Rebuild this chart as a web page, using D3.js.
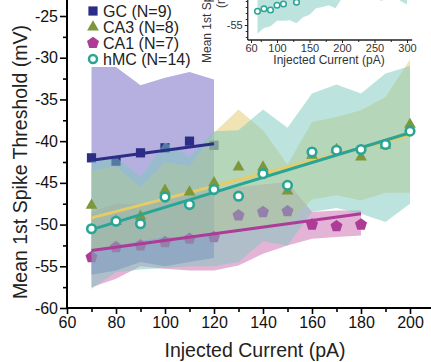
<!DOCTYPE html>
<html>
<head>
<meta charset="utf-8">
<script src="https://cdn.jsdelivr.net/npm/d3@7"></script>
<style>
  body { margin: 0; background: #fff; }
  svg { display: block; font-family: "Liberation Sans", Arial, sans-serif; }
</style>
</head>
<body>
<svg id="chart" width="431" height="362"></svg>
<script>
// ---- data ----
var gcCurrent = [70, 80, 90, 100, 110, 120];
var gcMean  = [-42.0, -42.4, -41.4, -40.8, -40.0, -40.5];
var gcUpper = [-31.1, -31.1, -33.3, -32.4, -31.7, -32.6];
var gcLower = [-56.0, -55.5, -54.5, -55.0, -54.5, -54.0];
var gcFit   = [-42.3, -40.3];

var ca3Current = [70, 80, 90, 100, 110, 120, 130, 140, 150, 160, 170, 180, 190, 200];
var ca3Mean  = [-47.7, -49.6, -49.0, -45.9, -46.1, -45.0, -43.1, -43.1, -46.0, -41.7, -41.0, -41.9, -40.5, -38.0];
var ca3Upper = [-43.5, -43.0, -45.5, -42.5, -43.0, -39.0, -36.2, -38.7, -42.8, -37.7, -37.1, -36.3, -34.7, -30.2];
var ca3Lower = [-53.0, -52.5, -52.0, -51.5, -51.5, -51.0, -50.5, -50.5, -50.0, -47.0, -46.5, -47.1, -46.2, -46.2];
var ca3Fit   = [-49.2, -39.3];

var ca1Current = [70, 80, 90, 100, 110, 120, 130, 140, 150, 160, 170, 180];
var ca1Mean  = [-53.9, -52.7, -52.5, -52.1, -51.7, -51.5, -48.9, -48.5, -48.4, -50.0, -50.2, -50.0];
var ca1Upper = [-48.5, -47.5, -47.5, -47.0, -46.5, -46.1, -45.5, -45.2, -44.9, -48.5, -48.3, -48.3];
var ca1Lower = [-57.5, -56.5, -55.0, -55.3, -55.5, -55.5, -54.9, -53.5, -52.5, -51.7, -51.5, -51.3];
var ca1Fit   = [-53.1, -48.7];

var hmcCurrent = [70, 80, 90, 100, 110, 120, 130, 140, 150, 160, 170, 180, 190, 200];
var hmcMean  = [-50.5, -49.6, -49.9, -46.7, -47.6, -45.8, -46.6, -43.9, -45.3, -41.3, -41.1, -41.0, -40.4, -38.8];
var hmcUpper = [-42.3, -41.9, -44.3, -40.1, -41.9, -38.8, -38.7, -36.2, -38.4, -34.3, -33.2, -34.3, -31.9, -31.0];
var hmcLower = [-57.7, -55.7, -55.4, -55.2, -55.0, -55.0, -54.5, -52.0, -52.5, -48.5, -48.0, -48.7, -49.7, -47.5];
var hmcFit   = [-50.6, -39.0];

var legendLabels = ["GC (N=9)", "CA3 (N=8)", "CA1 (N=7)", "hMC (N=14)"];
var xMajorTicks = [60, 80, 100, 120, 140, 160, 180, 200];
var xMinorTicks = [70, 90, 110, 130, 150, 170, 190];
var yMajorTicks = [-60, -55, -50, -45, -40, -35, -30, -25];
var yMinorTicks = [-57.5, -52.5, -47.5, -42.5, -37.5, -32.5, -27.5];

// inset (hMC, longer current range)
var insetCurrent = [70, 80, 90, 100, 110, 120, 130, 140, 150, 160, 170, 180, 190, 200, 210, 220, 230, 240, 250, 260, 270, 280, 290, 300];
var insetLower = [-56.4, -55.5, -55.2, -54.3, -54.3, -54.2, -54.7, -53.7, -53.3, -52.2, -52.0, -51.7, -52.2, -50.5, -49.0, -48.0, -48.5, -49.5, -50.0, -51.0, -50.5, -50.0, -51.0, -51.6];
var insetUpper = [-44.0, -44.0, -43.5, -43.0, -43.0, -42.5, -42.5, -42.0, -42.0, -41.5, -41.0, -41.0, -40.5, -40.0, -39.5, -39.0, -39.0, -38.5, -38.5, -38.0, -38.0, -37.5, -37.5, -37.0];
var insetMeanCurrent = [70, 80, 90, 100, 110, 130];
var insetMean = [-52.7, -52.3, -52.5, -51.7, -51.5, -51.2];
var insetXTicks = [60, 100, 150, 200, 250, 300];
var insetXMinor = [75, 125, 175, 225, 275];

// ---- colours ----
var cGC = "#2c2d86", cGCband = "#6b62c0";
var cCA3 = "#7c983a", cCA3line = "#e6cb66", cCA3band = "#e2c96b";
var cCA1 = "#ad3b98", cCA1band = "#c96aad";
var cHMC = "#2aa595", cHMCband = "#7cc8bd";

var plain = function(d) { return String(d); };   // hyphen minus, as in the figure

var svg = d3.select("#chart");

var x = d3.scaleLinear().domain([60, 200]).range([67, 410]);
var y = d3.scaleLinear().domain([-60, -25]).range([308, 16]);

function zip(xs, ys) { return xs.map(function(v, i) { return [v, ys[i]]; }); }

function band(cur, lo, hi, color) {
    var area = d3.area()
        .x(function(d) { return x(d[0]); })
        .y0(function(d) { return y(d[1]); })
        .y1(function(d) { return y(d[2]); });
    svg.append("path")
        .datum(cur.map(function(v, i) { return [v, lo[i], hi[i]]; }))
        .attr("d", area)
        .attr("fill", color)
        .attr("fill-opacity", 0.5);
}

function fitLine(cur, fit, color) {
    svg.append("line")
        .attr("x1", x(cur[0])).attr("y1", y(fit[0]))
        .attr("x2", x(cur[cur.length - 1])).attr("y2", y(fit[1]))
        .attr("stroke", color)
        .attr("stroke-width", 3);
}

var pentagon = {
    draw: function(ctx, size) {
        var r = Math.sqrt(size / 2.378);
        for (var k = 0; k < 5; k++) {
            var a = -Math.PI / 2 + k * 2 * Math.PI / 5;
            if (k == 0) ctx.moveTo(r * Math.cos(a), r * Math.sin(a));
            else ctx.lineTo(r * Math.cos(a), r * Math.sin(a));
        }
        ctx.closePath();
    }
};

function markers(cur, vals, type, size, color) {
    svg.append("g").selectAll("path")
        .data(zip(cur, vals))
        .enter().append("path")
        .attr("transform", function(d) { return "translate(" + x(d[0]) + "," + y(d[1]) + ")"; })
        .attr("d", d3.symbol().type(type).size(size))
        .attr("fill", color);
}

// bands and markers, in the stacking order seen in the figure
band(ca1Current, ca1Lower, ca1Upper, cCA1band);
band(gcCurrent, gcLower, gcUpper, cGCband);
markers(gcCurrent, gcMean, d3.symbolSquare, 85, cGC);
band(ca3Current, ca3Lower, ca3Upper, cCA3band);
markers(ca1Current, ca1Mean, pentagon, 95, cCA1);
band(hmcCurrent, hmcLower, hmcUpper, cHMCband);

fitLine(ca1Current, ca1Fit, cCA1);
fitLine(gcCurrent, gcFit, cGC);
fitLine(ca3Current, ca3Fit, cCA3line);
markers(ca3Current, ca3Mean, d3.symbolTriangle, 60, cCA3);
fitLine(hmcCurrent, hmcFit, cHMC);

svg.append("g").selectAll("circle")
    .data(zip(hmcCurrent, hmcMean))
    .enter().append("circle")
    .attr("cx", function(d) { return x(d[0]); })
    .attr("cy", function(d) { return y(d[1]); })
    .attr("r", 4.3)
    .attr("fill", "#fff")
    .attr("stroke", cHMC)
    .attr("stroke-width", 2.6);

// ---- axes ----
var gx = svg.append("g").attr("transform", "translate(0," + y(-60) + ")");
gx.call(d3.axisBottom(x).tickValues(xMajorTicks).tickFormat(plain).tickSize(6).tickSizeOuter(0).tickPadding(3));
gx.append("g").call(d3.axisBottom(x).tickValues(xMinorTicks).tickSize(4).tickFormat(""));
gx.selectAll(".domain").remove();
gx.selectAll("line").attr("stroke", "#000").attr("stroke-width", 1.6);
gx.selectAll("text").attr("font-size", 16).attr("font-family", "Liberation Sans, Arial, sans-serif").attr("fill", "#111");
gx.append("line").attr("x1", x(60)).attr("x2", 431).attr("stroke", "#000").attr("stroke-width", 2);

var gy = svg.append("g").attr("transform", "translate(" + x(60) + ",0)");
gy.call(d3.axisLeft(y).tickValues(yMajorTicks).tickFormat(plain).tickSize(7).tickSizeOuter(0).tickPadding(2));
gy.append("g").call(d3.axisLeft(y).tickValues(yMinorTicks).tickSize(4).tickFormat(""));
gy.selectAll(".domain").remove();
gy.selectAll("line").attr("stroke", "#000").attr("stroke-width", 1.6);
gy.selectAll("text").attr("font-size", 16).attr("font-family", "Liberation Sans, Arial, sans-serif").attr("fill", "#111");
gy.append("line").attr("y1", y(-60)).attr("y2", 0).attr("stroke", "#000").attr("stroke-width", 2);

svg.append("text")
    .attr("x", 255).attr("y", 357)
    .attr("text-anchor", "middle")
    .attr("font-size", 19.5)
    .attr("fill", "#222")
    .text("Injected Current (pA)");

svg.append("text")
    .attr("transform", "translate(27,162) rotate(-90)")
    .attr("text-anchor", "middle")
    .attr("font-size", 19.5)
    .attr("fill", "#222")
    .text("Mean 1st Spike Threshold (mV)");

// ---- legend ----
var legendMarks = [
    { type: d3.symbolSquare, size: 85, color: cGC },
    { type: d3.symbolTriangle, size: 60, color: cCA3 },
    { type: pentagon, size: 95, color: cCA1 }
];
legendLabels.forEach(function(lab, i) {
    var cy = 11 + i * 16;
    if (i < 3) {
        svg.append("path")
            .attr("transform", "translate(93," + cy + ")")
            .attr("d", d3.symbol().type(legendMarks[i].type).size(legendMarks[i].size))
            .attr("fill", legendMarks[i].color);
    } else {
        svg.append("circle").attr("cx", 93).attr("cy", cy).attr("r", 4)
            .attr("fill", "#fff").attr("stroke", cHMC).attr("stroke-width", 2.5);
    }
    svg.append("text")
        .attr("x", 103).attr("y", cy + 6)
        .attr("font-size", 16)
        .attr("fill", "#222")
        .text(lab);
});

// ---- inset (cropped at the top of the figure) ----
var xi = d3.scaleLinear().domain([60, 300]).range([251, 407]);
var yi = d3.scaleLinear().domain([-57.5, -55]).range([40, 25]);
var inset = svg.append("g");

inset.append("path")
    .datum(insetCurrent.map(function(v, i) { return [v, insetLower[i], insetUpper[i]]; }))
    .attr("d", d3.area()
        .x(function(d) { return xi(d[0]); })
        .y0(function(d) { return yi(d[1]); })
        .y1(function(d) { return yi(d[2]); }))
    .attr("fill", cHMCband)
    .attr("fill-opacity", 0.5);

inset.selectAll("circle")
    .data(zip(insetMeanCurrent, insetMean))
    .enter().append("circle")
    .attr("cx", function(d) { return xi(d[0]); })
    .attr("cy", function(d) { return yi(d[1]); })
    .attr("r", 2.8)
    .attr("fill", "#fff")
    .attr("stroke", cHMC)
    .attr("stroke-width", 1.5);

var gxi = inset.append("g").attr("transform", "translate(0," + yi(-57.5) + ")");
gxi.call(d3.axisBottom(xi).tickValues(insetXTicks).tickFormat(plain).tickSize(3).tickSizeOuter(0).tickPadding(1));
gxi.append("g").call(d3.axisBottom(xi).tickValues(insetXMinor).tickSize(2).tickFormat(""));
gxi.selectAll(".domain").remove();
gxi.selectAll("line").attr("stroke", "#222");
gxi.selectAll("text").attr("font-size", 11).attr("font-family", "Liberation Sans, Arial, sans-serif").attr("fill", "#333");
gxi.append("line").attr("x1", xi(55)).attr("x2", xi(308)).attr("stroke", "#222").attr("stroke-width", 1.3);

var gyi = inset.append("g").attr("transform", "translate(" + xi(55) + ",0)");
gyi.call(d3.axisLeft(yi).tickValues([-55]).tickFormat(plain).tickSize(3).tickSizeOuter(0).tickPadding(2));
gyi.append("g").call(d3.axisLeft(yi).tickValues([-56, -57, -54, -53, -52, -51]).tickSize(2).tickFormat(""));
gyi.selectAll(".domain").remove();
gyi.selectAll("line").attr("stroke", "#222");
gyi.selectAll("text").attr("font-size", 11).attr("font-family", "Liberation Sans, Arial, sans-serif").attr("fill", "#333");
gyi.append("line").attr("y1", yi(-57.5)).attr("y2", 0).attr("stroke", "#222").attr("stroke-width", 1.3);

inset.append("text")
    .attr("x", xi(180)).attr("y", 64)
    .attr("text-anchor", "middle")
    .attr("font-size", 12)
    .attr("fill", "#333")
    .text("Injected Current (pA)");
inset.append("text")
    .attr("transform", "translate(211,63) rotate(-90)")
    .attr("font-size", 12)
    .attr("fill", "#333")
    .text("Mean 1st Spike Threshold");
inset.append("text")
    .attr("transform", "translate(225,8) rotate(-90)")
    .attr("font-size", 12)
    .attr("fill", "#333")
    .text("(mV)");

// cropped panel letter at the bottom-left corner
svg.append("text")
    .attr("x", -1).attr("y", 381)
    .attr("font-size", 28)
    .attr("font-weight", "bold")
    .attr("fill", "#000")
    .text("D");
</script>
</body>
</html>
